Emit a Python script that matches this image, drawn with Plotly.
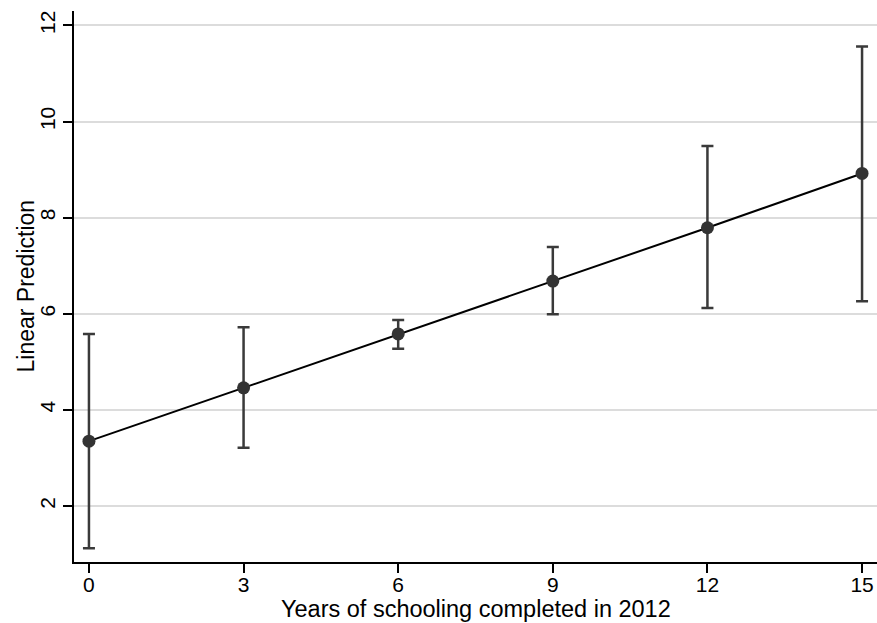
import plotly.graph_objects as go

years = [0, 3, 6, 9, 12, 15]
prediction = [3.35, 4.46, 5.58, 6.68, 7.79, 8.92]
ci_low = [1.12, 3.21, 5.27, 5.99, 6.12, 6.26]
ci_high = [5.58, 5.72, 5.87, 7.39, 9.49, 11.56]

x_ticks = [0, 3, 6, 9, 12, 15]
y_ticks = [2, 4, 6, 8, 10, 12]

x_title = "Years of schooling completed in 2012"
y_title = "Linear Prediction"

err_plus = [h - p for h, p in zip(ci_high, prediction)]
err_minus = [p - l for p, l in zip(prediction, ci_low)]

FONT = "Liberation Sans, Arial, Helvetica, sans-serif"

fig = go.Figure()
fig.add_trace(go.Scatter(
    x=years, y=prediction, mode="markers",
    marker=dict(size=1, color="rgba(0,0,0,0)"),
    error_y=dict(type="data", symmetric=False, array=err_plus, arrayminus=err_minus,
                 color="#3a3a3a", thickness=2.5, width=6),
    showlegend=False, hoverinfo="skip",
))
fig.add_trace(go.Scatter(
    x=years, y=prediction, mode="lines+markers",
    line=dict(color="black", width=2),
    marker=dict(size=13, color="#333333"),
    showlegend=False,
))

fig.update_layout(
    width=877, height=623,
    margin=dict(l=74, r=0, t=11, b=61),
    paper_bgcolor="white", plot_bgcolor="white",
    font=dict(family=FONT, size=21, color="black"),
    xaxis=dict(
        range=[-0.29, 15.29], tickvals=x_ticks, ticktext=[str(v) for v in x_ticks],
        showgrid=False, zeroline=False,
        showline=True, linecolor="black", linewidth=1.5,
        ticks="outside", ticklen=9, tickwidth=1.5, tickcolor="black",
        tickfont=dict(size=21), ticklabelstandoff=-6,
    ),
    yaxis=dict(
        range=[0.835, 12.30], tickvals=y_ticks, ticktext=[str(v) for v in y_ticks],
        showgrid=True, gridcolor="#dcdcdc", gridwidth=1.5, zeroline=False,
        showline=True, linecolor="black", linewidth=1.5,
        ticks="outside", ticklen=9, tickwidth=1.5, tickcolor="black",
        tickangle=-90, tickfont=dict(size=21),
    ),
    annotations=[
        dict(text=x_title, xref="paper", yref="paper", x=0.5, y=0,
             xanchor="center", yanchor="middle", yshift=-47, showarrow=False,
             font=dict(size=23.5)),
        dict(text=y_title, xref="paper", yref="paper", x=0, y=0.5,
             xanchor="center", yanchor="middle", xshift=-49, textangle=-90,
             showarrow=False, font=dict(size=23)),
    ],
)

fig.write_html("out.html", config={"displayModeBar": False},
               post_script="document.body.style.margin='0';")
